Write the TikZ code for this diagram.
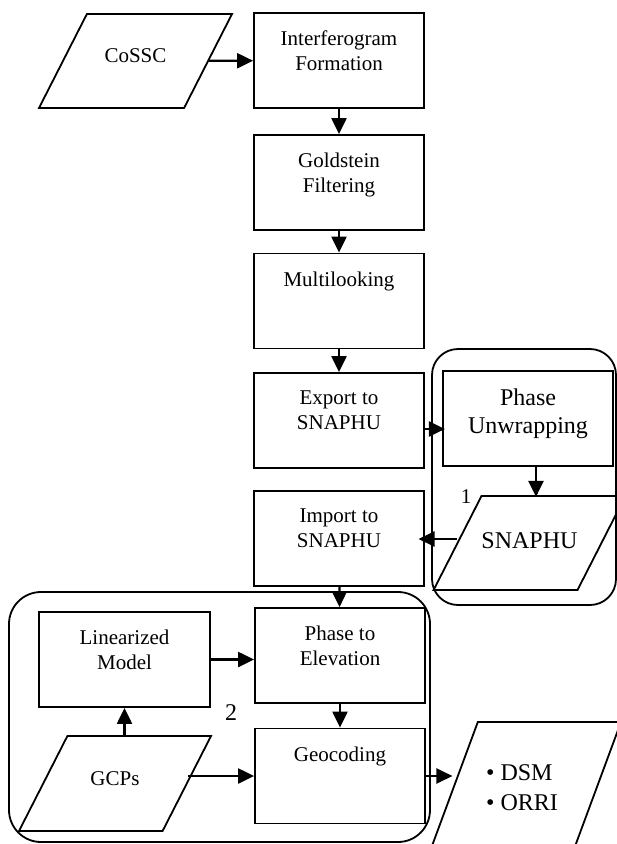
\documentclass[tikz,border=0pt]{standalone}
\usepackage{fontspec}
\setmainfont{Liberation Serif}
\usetikzlibrary{positioning}
\usetikzlibrary{shapes.geometric}
\usetikzlibrary{arrows.meta}

\newcommand{\normsize}{\fontsize{21}{25}\selectfont}
\newcommand{\bigsize}{\fontsize{24}{28}\selectfont}
\newcommand{\boxtext}[1]{\parbox[c][59pt][t]{165pt}{\centering #1}}

\begin{document}
\begin{tikzpicture}[
  x=1pt, y=-1pt,
  font=\normsize,
  procbox/.style={draw, line width=1.8pt, minimum width=170pt, minimum height=95pt, inner sep=0pt},
  data/.style={trapezium, draw, line width=1.8pt, trapezium stretches body, inner sep=0pt,
    trapezium left angle=63, trapezium right angle=117},
  group/.style={draw, line width=1.8pt},
  arrow/.style={-{Triangle[length=16pt, width=15pt]}, line width=2.2pt}
]
\useasboundingbox (0,0) rectangle (617,844);

% Inputs
\node[data, minimum width=193pt, text height=48pt, text depth=46pt] (cossc) at (135.5,61) {CoSSC};

% Main processing chain
\node[procbox] (ifg) at (339,60.5) {\boxtext{Interferogram\\Formation}};
\node[procbox] (gold) at (339,182.5) {\boxtext{Goldstein\\Filtering}};
\node[procbox] (multi) at (339,301) {\boxtext{Multilooking}};
\node[procbox] (export) at (339,420.5) {\boxtext{Export to\\SNAPHU}};
\node[procbox] (import) at (339,538.5) {\boxtext{Import to\\SNAPHU}};

% Block 1: unwrapping
\draw[group, rounded corners=26pt] (432,349) rectangle (616,605);
\node[procbox, font=\bigsize] (unwrap) at (528,418.5) {\boxtext{Phase\\Unwrapping}};
\node[data, font=\bigsize, minimum width=183pt, text height=52pt, text depth=42pt] (snaphu) at (529.5,543) {SNAPHU};
\node (lab1) at (466,497) {1};

% Block 2: elevation and geocoding
\draw[group, rounded corners=32pt] (9,592) rectangle (430,842);
\node[procbox] (p2e) at (340,655.5) {\boxtext{Phase to\\Elevation}};
\node[procbox] (geo) at (340,776) {\boxtext{Geocoding}};
\node[procbox, minimum width=171pt] (linmod) at (124.5,659.5) {\boxtext{Linearized\\Model}};
\node[data, minimum width=192pt, text height=49pt, text depth=46pt] (gcps) at (115,783.5) {GCPs};
\node[font=\bigsize] (lab2) at (231,713) {2};

% Outputs
\node[data, trapezium left angle=69.7, trapezium right angle=110.3, minimum width=192pt,
  text height=66pt, text depth=66pt] (out) at (525,788) {};
\node[font=\fontsize{24}{30}\selectfont, align=left] (outtxt) at (522,788) {\textbullet\ DSM\\\textbullet\ ORRI};

% Flow
\draw[arrow] (cossc) -- (ifg);
\draw[arrow] (ifg) -- (gold);
\draw[arrow] (gold) -- (multi);
\draw[arrow] (multi) -- (export);
\draw[arrow] ([yshift=-8.5pt]export.east) -- ++(20,0);
\draw[arrow] ([xshift=8pt]unwrap.south) -- ++(0,30);
\draw[arrow] ([yshift=4pt]snaphu.west) -- ++(-38,0);
\draw[arrow] (import) -- (p2e);
\draw[arrow] (linmod.east) -- (linmod.east -| p2e.west);
\draw[arrow] (p2e) -- (geo);
\draw[arrow] (gcps.north -| linmod) -- (linmod.south);
\draw[arrow] (gcps.east |- geo) -- (geo.west);
\draw[arrow] (geo.east) -- (geo.east -| out.west);

\end{tikzpicture}
\end{document}
